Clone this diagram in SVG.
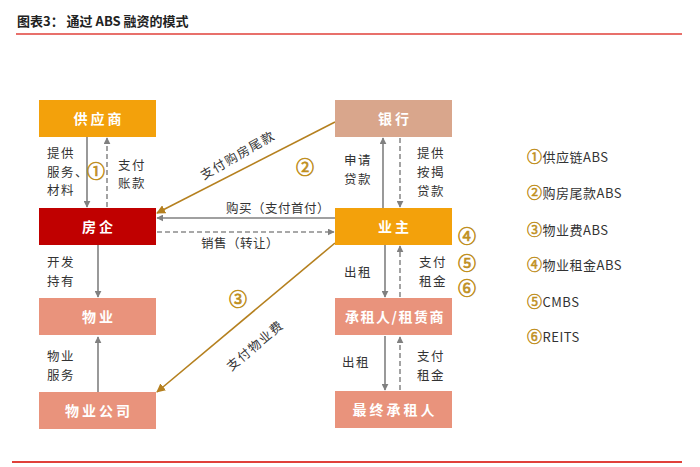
<svg xmlns="http://www.w3.org/2000/svg" width="700" height="467" viewBox="0 0 700 467">
<style>
.t{font-family:"Noto Sans CJK SC","Liberation Sans",sans-serif;}
.title{font-size:13px;font-weight:bold;fill:#222;}
.nt{font-size:14px;fill:#fff;font-weight:bold;text-anchor:middle;letter-spacing:3px;}
.lb{font-size:12.5px;fill:#333;letter-spacing:1.5px;}
.cn{font-size:18px;fill:#C0901F;stroke:#C0901F;stroke-width:0.7;text-anchor:middle;}
.lg{font-size:13px;fill:#333;letter-spacing:0.5px;}
.lgc{fill:#C0901F;stroke:#C0901F;stroke-width:0.5;font-size:15px;}
.sol{stroke:#808080;stroke-width:1.6;fill:none;}
.das{stroke:#8c8c8c;stroke-width:1.6;fill:none;stroke-dasharray:5,3;}
.brn{stroke:#B5801F;stroke-width:1.6;fill:none;}
</style>
<defs>
<marker id="ag" viewBox="0 0 10 10" refX="9" refY="5" markerWidth="7" markerHeight="7" markerUnits="userSpaceOnUse" orient="auto"><path d="M0,0 L10,5 L0,10 z" fill="#808080"/></marker>
<marker id="ab" viewBox="0 0 10 10" refX="9" refY="5" markerWidth="9" markerHeight="9" markerUnits="userSpaceOnUse" orient="auto"><path d="M0,0 L10,5 L0,10 z" fill="#B5801F"/></marker>
</defs>
<rect width="700" height="467" fill="#fff"/>
<text class="t title" x="17" y="26">图表3：  通过 ABS 融资的模式</text>
<line x1="16" y1="34" x2="682" y2="34" stroke="#E0403A" stroke-width="1.5"/>
<line x1="12" y1="462" x2="682" y2="462" stroke="#E0403A" stroke-width="1.8"/>

<g id="connectors">
<line class="sol" x1="87" y1="137" x2="87" y2="207" marker-end="url(#ag)"/>
<line class="das" x1="107" y1="207" x2="107" y2="138" marker-end="url(#ag)"/>
<line class="sol" x1="383" y1="208" x2="383" y2="138" marker-end="url(#ag)"/>
<line class="das" x1="400" y1="138" x2="400" y2="207" marker-end="url(#ag)"/>
<line class="sol" x1="335" y1="218" x2="157" y2="218" marker-end="url(#ag)"/>
<line class="das" x1="157" y1="232" x2="334" y2="232" marker-end="url(#ag)"/>
<line class="brn" x1="335" y1="122" x2="157" y2="213" marker-end="url(#ab)"/>
<line class="brn" x1="335" y1="243" x2="157" y2="392" marker-end="url(#ab)"/>
<line class="sol" x1="98" y1="245" x2="98" y2="297" marker-end="url(#ag)"/>
<line class="sol" x1="98" y1="392" x2="98" y2="337" marker-end="url(#ag)"/>
<line class="sol" x1="385" y1="245" x2="385" y2="297" marker-end="url(#ag)"/>
<line class="das" x1="400" y1="297" x2="400" y2="246" marker-end="url(#ag)"/>
<line class="sol" x1="385" y1="336" x2="385" y2="390" marker-end="url(#ag)"/>
<line class="das" x1="400" y1="390" x2="400" y2="337" marker-end="url(#ag)"/>

<text class="t lb" x="47" y="158">提供</text>
<text class="t lb" x="47" y="177">服务、</text>
<text class="t lb" x="47" y="195">材料</text>
<text class="t cn" x="96" y="178">①</text>
<text class="t lb" x="118" y="170">支付</text>
<text class="t lb" x="118" y="188">账款</text>
<text class="t lb" x="344" y="165">申请</text>
<text class="t lb" x="344" y="184">贷款</text>
<text class="t lb" x="417" y="158">提供</text>
<text class="t lb" x="417" y="177">按揭</text>
<text class="t lb" x="417" y="196">贷款</text>
<text class="t lb" x="278" y="213" text-anchor="middle" style="letter-spacing:0.5px">购买（支付首付）</text>
<text class="t lb" x="240" y="248" text-anchor="middle" style="letter-spacing:0.5px">销售（转让）</text>
<text class="t lb" transform="translate(240,159) rotate(-30)" text-anchor="middle">支付购房尾款</text>
<text class="t cn" x="305" y="174">②</text>
<text class="t cn" x="238" y="306">③</text>
<text class="t lb" transform="translate(258,349) rotate(-40)" text-anchor="middle">支付物业费</text>
<text class="t lb" x="47" y="267">开发</text>
<text class="t lb" x="47" y="286">持有</text>
<text class="t lb" x="47" y="361">物业</text>
<text class="t lb" x="47" y="380">服务</text>
<text class="t lb" x="344" y="277">出租</text>
<text class="t lb" x="419" y="267">支付</text>
<text class="t lb" x="419" y="286">租金</text>
<text class="t cn" x="467" y="243">④</text>
<text class="t cn" x="467" y="270">⑤</text>
<text class="t cn" x="467" y="295">⑥</text>
<text class="t lb" x="342" y="367">出租</text>
<text class="t lb" x="417" y="361">支付</text>
<text class="t lb" x="417" y="380">租金</text>
</g>

<g id="n-supplier"><rect x="39" y="100" width="117" height="37" fill="#F3A10B"/><text class="t nt" x="99" y="124">供应商</text></g>
<g id="n-bank"><rect x="335" y="100" width="117" height="37" fill="#D9A68C"/><text class="t nt" x="395" y="124">银行</text></g>
<g id="n-developer"><rect x="39" y="208" width="117" height="37" fill="#C00000"/><text class="t nt" x="99" y="232">房企</text></g>
<g id="n-owner"><rect x="335" y="208" width="117" height="37" fill="#F3A10B"/><text class="t nt" x="395" y="232">业主</text></g>
<g id="n-property"><rect x="39" y="298" width="117" height="37" fill="#E9937C"/><text class="t nt" x="99" y="322">物业</text></g>
<g id="n-lessee"><rect x="335" y="298" width="117" height="37" fill="#E9937C"/><text class="t nt" x="395" y="322" style="letter-spacing:1.5px">承租人/租赁商</text></g>
<g id="n-pmc"><rect x="39" y="392" width="117" height="37" fill="#E9937C"/><text class="t nt" x="99" y="416">物业公司</text></g>
<g id="n-final"><rect x="335" y="391" width="117" height="37" fill="#E9937C"/><text class="t nt" x="395" y="415">最终承租人</text></g>

<g id="legend">
<text class="t lg" x="527" y="162"><tspan class="lgc">①</tspan>供应链ABS</text>
<text class="t lg" x="527" y="198"><tspan class="lgc">②</tspan>购房尾款ABS</text>
<text class="t lg" x="527" y="235"><tspan class="lgc">③</tspan>物业费ABS</text>
<text class="t lg" x="527" y="270"><tspan class="lgc">④</tspan>物业租金ABS</text>
<text class="t lg" x="527" y="307"><tspan class="lgc">⑤</tspan>CMBS</text>
<text class="t lg" x="527" y="342"><tspan class="lgc">⑥</tspan>REITS</text>
</g>
</svg>
